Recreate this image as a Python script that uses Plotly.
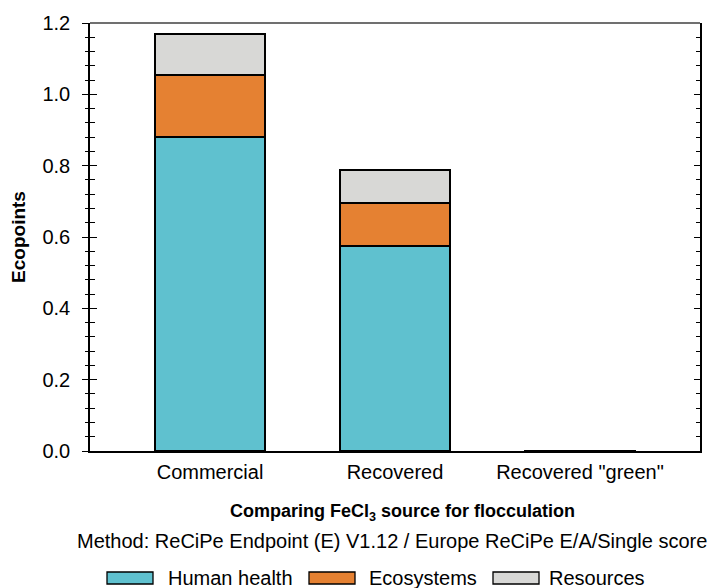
import plotly.graph_objects as go

categories = ["Commercial", "Recovered", 'Recovered "green"']
human_health = [0.880, 0.575, 0.0010]
ecosystems = [0.174, 0.120, 0.0005]
resources = [0.115, 0.093, 0.0005]
y_ticks = [0.0, 0.2, 0.4, 0.6, 0.8, 1.0, 1.2]
y_ticktext = ["0.0", "0.2", "0.4", "0.6", "0.8", "1.0", "1.2"]
series = [("Human health", human_health, "#5fc1cf"),
          ("Ecosystems", ecosystems, "#e58132"),
          ("Resources", resources, "#d8d8d6")]

FONT = "Liberation Sans, Arial, sans-serif"

fig = go.Figure()
for name, vals, col in series:
    fig.add_trace(go.Bar(x=categories, y=vals, name=name, width=0.595,
                         marker=dict(color=col, line=dict(color="black", width=1.5)),
                         showlegend=False))

yr = [0, 1.2]
fig.update_layout(
    width=708, height=580,
    margin=dict(l=82, r=16, t=15, b=137, autoexpand=False),
    barmode="stack",
    plot_bgcolor="white", paper_bgcolor="white",
    font=dict(family=FONT, size=20, color="black"),
    xaxis=dict(type="category", range=[-0.649, 2.649], showline=True, linecolor="black",
               linewidth=1.5, ticks="", tickfont=dict(size=20), showgrid=False, zeroline=False,
               ticklabelstandoff=2, automargin=False),
    yaxis=dict(range=yr, tickvals=y_ticks, ticktext=y_ticktext, showline=True, linecolor="black",
               linewidth=1.5, ticks="outside", ticklen=6, tickwidth=1.3, tickcolor="black",
               ticklabelstandoff=8, automargin=False,
               minor=dict(dtick=0.04, ticks="outside", ticklen=3, tickwidth=1.3, tickcolor="black"),
               showgrid=False, zeroline=False, tickfont=dict(size=20),
               title=dict(text="<b>Ecopoints</b>", font=dict(size=19), standoff=13)),
    yaxis2=dict(range=yr, overlaying="y", side="left", anchor="x", showticklabels=False,
                tickvals=y_ticks, ticks="inside", ticklen=7, tickwidth=1.3, tickcolor="black",
                minor=dict(dtick=0.04, ticks="inside", ticklen=5, tickwidth=1.3, tickcolor="black"),
                showgrid=False, zeroline=False, showline=False, automargin=False),
    yaxis3=dict(range=yr, overlaying="y", side="right", anchor="x", showticklabels=False,
                tickvals=y_ticks, ticks="inside", ticklen=6, tickwidth=1.3, tickcolor="black",
                minor=dict(dtick=0.04, ticks="inside", ticklen=4, tickwidth=1.3, tickcolor="black"),
                showgrid=False, zeroline=False, showline=True, linecolor="black", linewidth=1.5,
                automargin=False),
)

# invisible traces to anchor the helper axes
fig.add_trace(go.Scatter(x=[categories[0]], y=[0], yaxis="y2", mode="markers",
                         marker=dict(opacity=0), showlegend=False, hoverinfo="skip"))
fig.add_trace(go.Scatter(x=[categories[0]], y=[0], yaxis="y3", mode="markers",
                         marker=dict(opacity=0), showlegend=False, hoverinfo="skip"))

# top frame line (gray)
fig.add_shape(type="line", xref="paper", yref="paper", x0=0, x1=1, y0=1, y1=1,
              line=dict(color="#707070", width=2))

PW, PH, X0, YB = 610, 428, 90, 451

fig.add_annotation(text="<b>Comparing FeCl<sub>3</sub> source for flocculation</b>",
                   xref="paper", yref="paper", x=(402.5 - X0) / PW, y=(YB - 512) / PH,
                   yanchor="middle", showarrow=False, font=dict(size=18))
fig.add_annotation(text="Method: ReCiPe Endpoint (E) V1.12 / Europe ReCiPe E/A/Single score",
                   xref="paper", yref="paper", x=(392 - X0) / PW, y=(YB - 541) / PH,
                   yanchor="middle", showarrow=False, font=dict(size=20))

# legend drawn as swatches
leg_x = [107, 309, 493]
leg_tx = [166, 367, 547]
for (name, vals, col), x0, tx in zip(series, leg_x, leg_tx):
    fig.add_shape(type="rect", xref="paper", yref="paper",
                  x0=(x0 - X0) / PW, x1=(x0 + 46 - X0) / PW,
                  y0=(YB - 584) / PH, y1=(YB - 572) / PH,
                  fillcolor=col, line=dict(color="black", width=1.3))
    fig.add_annotation(text=name, xref="paper", yref="paper",
                       x=(tx - X0) / PW, xanchor="left",
                       y=(YB - 577.5) / PH, yanchor="middle",
                       showarrow=False, font=dict(size=20))

fig.write_html("out.html")
